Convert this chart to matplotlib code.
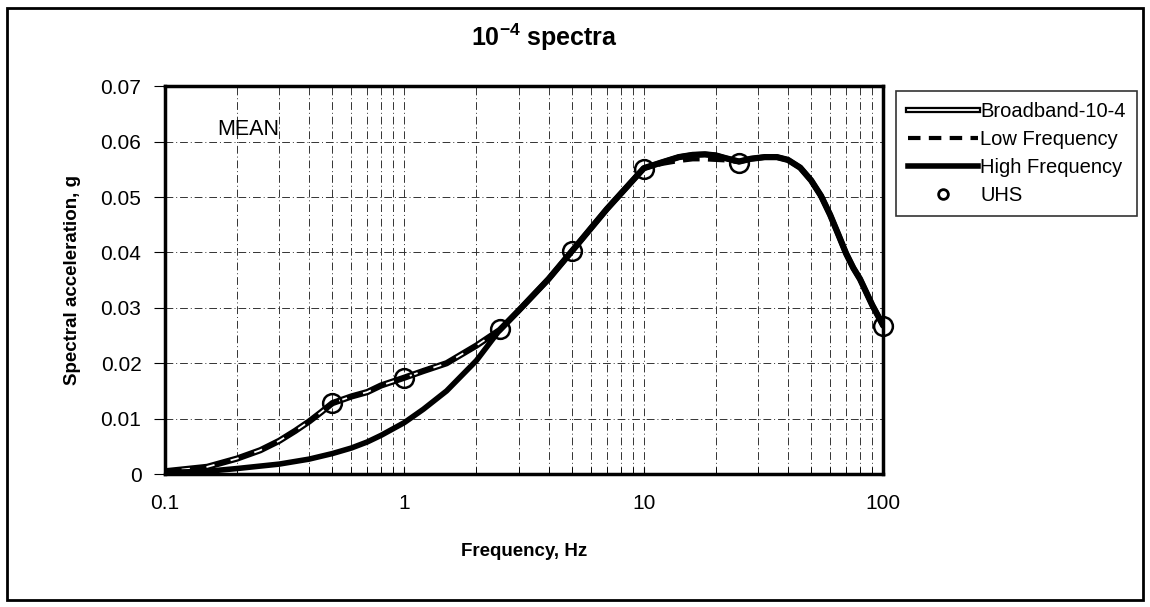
import matplotlib
matplotlib.use("Agg")
import matplotlib.pyplot as plt
from matplotlib.patches import Rectangle
from matplotlib.lines import Line2D
from matplotlib.ticker import FixedLocator, LogLocator, NullFormatter

plt.rcParams["font.family"] = ["Liberation Sans", "DejaVu Sans"]
plt.rcParams["mathtext.fontset"] = "custom"
plt.rcParams["mathtext.rm"] = "Liberation Sans"
plt.rcParams["mathtext.bf"] = "Liberation Sans:bold"

# Broadband-10-4 (smoothed spectrum)
freq_bb = [0.1, 0.15, 0.2, 0.25, 0.3, 0.35, 0.4, 0.45, 0.5, 0.6, 0.7, 0.8, 1.0, 1.2, 1.5,
           2.0, 2.5, 3.0, 4.0, 5.0, 7.0, 10, 12, 14, 16, 18, 20, 22, 25, 28, 32, 36, 40,
           45, 50, 55, 60, 65, 70, 75, 80, 90, 100]
sa_bb = [0.0005, 0.0013, 0.0028, 0.0043, 0.0060, 0.0078, 0.0095, 0.0112, 0.0128, 0.0140,
         0.0148, 0.0160, 0.0174, 0.0186, 0.0200, 0.0232, 0.0260, 0.0295, 0.0352, 0.0402,
         0.0478, 0.0552, 0.0563, 0.0572, 0.0576, 0.0577, 0.0575, 0.0570, 0.0564, 0.0569,
         0.0572, 0.0572, 0.0567, 0.0553, 0.0530, 0.0502, 0.0468, 0.0432, 0.0398, 0.0372,
         0.0352, 0.0305, 0.0268]

# Low frequency
freq_lf = [0.1, 0.15, 0.2, 0.25, 0.3, 0.35, 0.4, 0.45, 0.5, 0.6, 0.7, 0.8, 1.0, 1.2, 1.5,
           2.0, 2.5, 3.0, 4.0, 5.0, 7.0, 10, 12, 14, 16, 18, 20, 22, 25]
sa_lf = [0.0005, 0.0013, 0.0028, 0.0043, 0.0060, 0.0078, 0.0095, 0.0112, 0.0128, 0.0140,
         0.0148, 0.0160, 0.0174, 0.0186, 0.0200, 0.0232, 0.0260, 0.0295, 0.0352, 0.0402,
         0.0478, 0.0552, 0.0560, 0.0565, 0.0568, 0.0568, 0.0567, 0.0566, 0.0563]

# High frequency
freq_hf = [0.1, 0.15, 0.2, 0.3, 0.4, 0.5, 0.6, 0.7, 0.8, 1.0, 1.2, 1.5, 2.0, 2.5, 3.0,
           4.0, 5.0, 7.0, 10, 12, 14, 16, 18, 20, 22, 25, 28, 32, 36, 40, 45, 50, 55,
           60, 65, 70, 75, 80, 90, 100]
sa_hf = [0.0003, 0.0005, 0.0010, 0.0018, 0.0027, 0.0037, 0.0047, 0.0058, 0.0070, 0.0093,
         0.0117, 0.0150, 0.0205, 0.0260, 0.0295, 0.0352, 0.0402, 0.0478, 0.0552, 0.0563,
         0.0572, 0.0576, 0.0577, 0.0575, 0.0570, 0.0564, 0.0569, 0.0572, 0.0572, 0.0567,
         0.0553, 0.0530, 0.0502, 0.0468, 0.0432, 0.0398, 0.0372, 0.0352, 0.0305, 0.0268]

# uniform hazard spectrum points
freq_uhs = [0.5, 1, 2.5, 5, 10, 25, 100]
sa_uhs = [0.0128, 0.0174, 0.0261, 0.0402, 0.0550, 0.0562, 0.0268]

fig = plt.figure(figsize=(11.5, 6.07), dpi=100)
ax = fig.add_axes([0.1435, 0.219, 0.6245, 0.639])

ax.set_xscale("log")
ax.set_xlim(0.1, 100)
ax.set_ylim(0, 0.07)

grid_kw = dict(color="#333333", lw=0.7, ls=(0, (8, 3, 1, 3)), zorder=0)
ax.xaxis.set_minor_locator(LogLocator(base=10, subs=range(2, 10)))
ax.xaxis.set_minor_formatter(NullFormatter())
ax.grid(True, which="both", axis="x", **grid_kw)
ax.grid(True, which="major", axis="y", **grid_kw)

ax.yaxis.set_major_locator(FixedLocator([0, 0.01, 0.02, 0.03, 0.04, 0.05, 0.06, 0.07]))
ax.set_yticklabels(["0", "0.01", "0.02", "0.03", "0.04", "0.05", "0.06", "0.07"])
ax.set_xticks([0.1, 1, 10, 100])
ax.set_xticklabels(["0.1", "1", "10", "100"])
ax.tick_params(axis="y", direction="out", length=8, labelsize=15, pad=9)
ax.tick_params(axis="x", which="both", direction="in", length=5, labelsize=15, pad=14)

for sp in ax.spines.values():
    sp.set_linewidth(2.5)

# broadband as a double line (black outline, white core)
ax.plot(freq_bb, sa_bb, color="black", lw=4.5, zorder=3, solid_capstyle="round")
ax.plot(freq_bb, sa_bb, color="white", lw=1.3, zorder=3.1)
ax.plot(freq_lf, sa_lf, color="black", lw=3, ls=(0, (4, 2)), zorder=3.2)
ax.plot(freq_hf, sa_hf, color="black", lw=4, zorder=3.3, solid_capstyle="round")
ax.plot(freq_uhs, sa_uhs, ls="none", marker="o", ms=13.5, mfc="none", mec="black",
        mew=1.8, zorder=4, clip_on=False)

ax.text(0.165, 0.0612, "MEAN", fontsize=15.5)

ax.set_xlabel("Frequency, Hz", fontsize=13.5, fontweight="bold", labelpad=22)
ax.set_ylabel("Spectral acceleration, g", fontsize=13.5, fontweight="bold", labelpad=14)
fig.text(0.473, 0.938, r"10$^{\mathbf{-4}}$ spectra", fontsize=18, fontweight="bold",
         ha="center", va="center")

handles = [
    (Line2D([], [], color="black", lw=4.5), Line2D([], [], color="white", lw=1.3)),
    Line2D([], [], color="black", lw=3, ls=(0, (3, 2))),
    Line2D([], [], color="black", lw=4),
    Line2D([], [], ls="none", marker="o", ms=7, mfc="none", mec="black", mew=2),
]
labels = ["Broadband-10-4", "Low Frequency", "High Frequency", "UHS"]
leg = fig.legend(handles, labels, loc="upper left", bbox_to_anchor=(0.776, 0.857),
                 fontsize=14.5, frameon=True, fancybox=False, edgecolor="black",
                 handlelength=3.5, handletextpad=0.1, labelspacing=0.45, borderpad=0.55,
                 borderaxespad=0.2)
leg.get_frame().set_linewidth(1.2)

fig.patches.append(Rectangle((0.006, 0.012), 0.988, 0.975, transform=fig.transFigure,
                             fill=False, edgecolor="black", lw=2))

fig.savefig("out.png", dpi=100)
